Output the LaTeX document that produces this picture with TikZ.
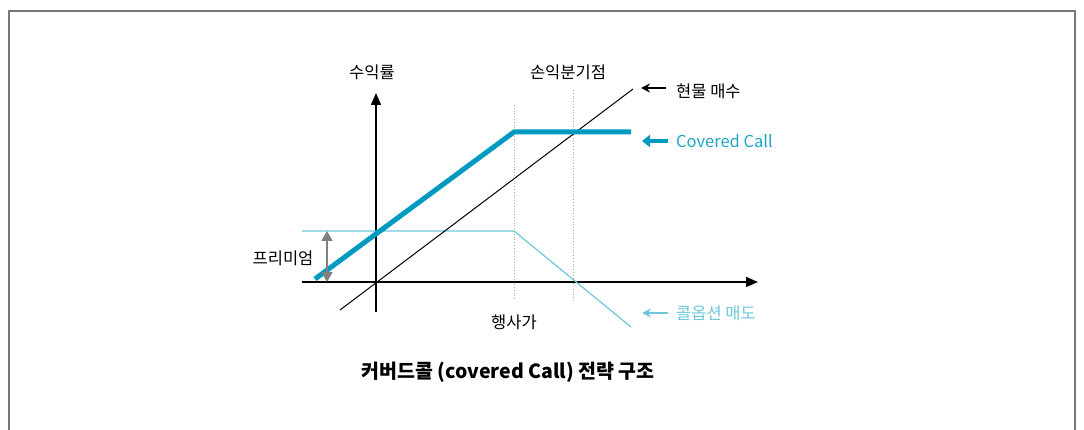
\documentclass[tikz,border=0pt]{standalone}
\usepackage{fontspec}
\setmainfont{Noto Sans CJK KR}
\usetikzlibrary{arrows.meta}
\definecolor{ccblue}{RGB}{0,153,192}
\definecolor{ccltxt}{RGB}{30,165,200}
\definecolor{optblue}{RGB}{110,198,220}
\definecolor{framegray}{RGB}{120,120,120}
\tikzset{
  lbl/.style={inner sep=0pt, font=\fontsize{16.5}{16.5}\selectfont},
  axisline/.style={line width=1.3pt, -{Triangle[length=12pt,width=10pt]}},
  guide/.style={gray!70, line width=0.8pt, dotted},
  legarrow/.style={-{Stealth[length=9pt,width=9pt]}},
}
\begin{document}
\begin{tikzpicture}[x=1pt,y=-1pt]
\useasboundingbox (0,0) rectangle (1084,430);
% frame
\draw[framegray, line width=1.4pt] (9,435) -- (9,11) -- (1075,11) -- (1075,435);
% coordinates
\coordinate (o) at (376,282);
\coordinate (ytop) at (376,93);
\coordinate (ybot) at (376,312);
\coordinate (xl) at (302,282);
\coordinate (xr) at (758,282);
\coordinate (k) at (514,132);
% guides
\draw[guide] (514,105) -- (514,300);
\draw[guide] (573,90) -- (573,302);
% axes
\draw[axisline] (ybot) -- (ytop);
\draw[axisline] (xl) -- (xr);
% option line
\coordinate (op0) at (302,231);
\coordinate (op1) at (514,231);
\coordinate (op2) at (631,327);
\draw[optblue, line width=1.2pt] (op0) -- (op1) -- (op2);
% stock line
\coordinate (s0) at (340,310);
\coordinate (s1) at (633,89);
\draw[black, line width=1pt] (s0) -- (s1);
% covered call
\coordinate (c0) at (315,279);
\coordinate (c2) at (631,132);
\draw[ccblue, line width=5pt] (c0) -- (k) -- (c2);
% premium arrow
\coordinate (p0) at (327,231);
\coordinate (p1) at (327,282);
\draw[gray, line width=2pt, {Triangle[length=10pt,width=11pt]}-{Triangle[length=10pt,width=11pt]}] (p0) -- (p1);
% labels
\node[lbl] (ylab) at (372,72) {수익률};
\node[lbl] (bep) at (568,72) {손익분기점};
\node[lbl, anchor=west] (stk) at (676,91) {현물 매수};
\node[lbl, anchor=west, text=ccltxt] (cc) at (676,141) {Covered Call};
\node[lbl, anchor=west, text=optblue] (opt) at (676,313) {콜옵션 매도};
\node[lbl] (strike) at (514,322) {행사가};
\node[lbl] (prem) at (283,258) {프리미엄};
\node[inner sep=0pt, font=\fontsize{19.5}{19.5}\selectfont\bfseries] (title) at (508,372) {커버드콜 (covered Call) 전략 구조};
% legend arrows
\coordinate (la1) at (641,88);
\draw[legarrow, line width=1.4pt] (stk.west) ++(-10,-3) -- (la1);
\coordinate (la2) at (642,141);
\draw[ccblue, line width=4pt, -{Triangle[length=8pt,width=12pt]}] (cc.west) ++(-8,0) -- (la2);
\coordinate (la3) at (642,313);
\draw[optblue, legarrow, line width=1.4pt] (opt.west) ++(-8,0) -- (la3);
\end{tikzpicture}
\end{document}
